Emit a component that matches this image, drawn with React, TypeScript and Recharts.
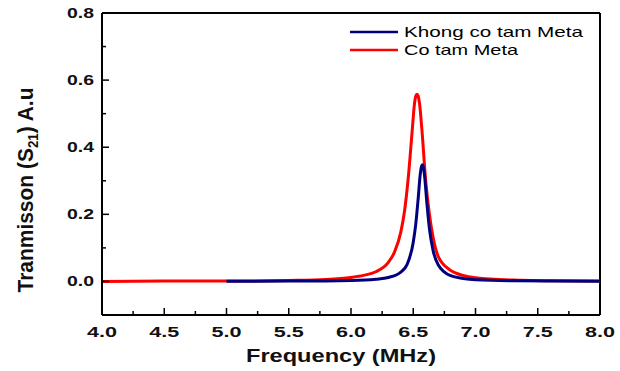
import { LineChart, Line, XAxis, YAxis, ReferenceLine, Legend } from 'recharts';

// frequency (MHz) and transmission readings for each trace
const redFreq = [4.0, 4.5, 5.0, 5.5, 5.8, 6.0, 6.1, 6.2, 6.3, 6.35, 6.4, 6.43, 6.46, 6.49, 6.51, 6.52, 6.53, 6.54, 6.55, 6.57, 6.6, 6.63, 6.66, 6.7, 6.8, 6.9, 7.0, 7.3, 7.6, 8.0];
const redS21 = [0.0, 0.001, 0.001, 0.003, 0.006, 0.012, 0.018, 0.029, 0.057, 0.088, 0.147, 0.21, 0.309, 0.442, 0.53, 0.552, 0.558, 0.552, 0.532, 0.45, 0.3, 0.2, 0.13, 0.075, 0.033, 0.018, 0.011, 0.004, 0.002, 0.001];

const blueFreq = [5.0, 5.5, 6.0, 6.2, 6.3, 6.4, 6.45, 6.5, 6.52, 6.54, 6.555, 6.566, 6.573, 6.58, 6.59, 6.61, 6.63, 6.66, 6.7, 6.8, 6.9, 7.0, 7.3, 8.0];
const blueS21 = [0.0005, 0.001, 0.003, 0.0068, 0.0118, 0.028, 0.05, 0.117, 0.17, 0.249, 0.315, 0.342, 0.348, 0.343, 0.318, 0.231, 0.157, 0.091, 0.05, 0.017, 0.009, 0.005, 0.002, 0.0005];

const xTicks = [4.0, 4.25, 4.5, 4.75, 5.0, 5.25, 5.5, 5.75, 6.0, 6.25, 6.5, 6.75, 7.0, 7.25, 7.5, 7.75, 8.0];
const yTicks = [-0.1, 0.0, 0.1, 0.2, 0.3, 0.4, 0.5, 0.6, 0.7, 0.8];

const redData = redFreq.map((f, i) => ({ f, v: redS21[i] }));
const blueData = blueFreq.map((f, i) => ({ f, v: blueS21[i] }));

const isMajor = (v: number, step: number) => Math.abs(v / step - Math.round(v / step)) < 1e-6;

const XTick = (props: any) => {
  const { x, y, payload } = props;
  const v = payload.value;
  const major = isMajor(v, 0.5);
  return (
    <g>
      <line x1={x} x2={x} y1={y} y2={y - (major ? 7 : 4)} stroke="#000" strokeWidth={1.5} />
      {major && (
        <text x={x} y={y + 22} textAnchor="middle" fontFamily="Liberation Sans, Arial" fontWeight="bold" fontSize={15} fill="#111" textLength={30} lengthAdjust="spacingAndGlyphs">
          {v.toFixed(1)}
        </text>
      )}
    </g>
  );
};

const YTick = (props: any) => {
  const { x, y, payload } = props;
  const v = payload.value;
  const major = isMajor(v, 0.2) && v >= 0;
  return (
    <g>
      <line x1={x} x2={x + (major ? 7 : 4)} y1={y} y2={y} stroke="#000" strokeWidth={1.5} />
      {major && (
        <text x={x - 8} y={y + 5} textAnchor="end" fontFamily="Liberation Sans, Arial" fontWeight="bold" fontSize={15} fill="#111" textLength={27} lengthAdjust="spacingAndGlyphs">
          {v.toFixed(1)}
        </text>
      )}
    </g>
  );
};

const renderLegend = () => (
  <svg width={260} height={40}>
    <line x1={5} x2={53} y1={10} y2={10} stroke="#00007f" strokeWidth={2.5} />
    <text x={59} y={15} fontFamily="Liberation Sans, Arial" fontSize={15} fill="#000" textLength={179} lengthAdjust="spacingAndGlyphs">Khong co tam Meta</text>
    <line x1={5} x2={53} y1={28} y2={28} stroke="#ff0000" strokeWidth={2.5} />
    <text x={59} y={33} fontFamily="Liberation Sans, Arial" fontSize={15} fill="#000" textLength={114} lengthAdjust="spacingAndGlyphs">Co tam Meta</text>
  </svg>
);

export default function App() {
  return (
    <div style={{ position: 'absolute', left: 0, top: 0, width: 620, height: 371, background: '#fff' }}>
      <LineChart width={620} height={371} margin={{ top: 13, right: 20, bottom: 26, left: 42 }}>
        <XAxis
          type="number"
          dataKey="f"
          domain={[4, 8]}
          ticks={xTicks}
          interval={0}
          allowDuplicatedCategory={false}
          height={30}
          tickSize={0}
          tickMargin={0}
          axisLine={{ stroke: '#000', strokeWidth: 2 }}
          tick={<XTick />}
          label={() => (
            <text x={341} y={362} textAnchor="middle" fontFamily="Liberation Sans, Arial" fontWeight="bold" fontSize={18} fill="#111" textLength={190} lengthAdjust="spacingAndGlyphs">
              Frequency (MHz)
            </text>
          )}
        />
        <YAxis
          type="number"
          domain={[-0.1, 0.8]}
          ticks={yTicks}
          interval={0}
          width={60}
          tickSize={0}
          tickMargin={0}
          axisLine={{ stroke: '#000', strokeWidth: 2 }}
          tick={<YTick />}
          label={() => (
            <text x={33} y={190} transform="rotate(-90, 33, 190)" textAnchor="middle" fontFamily="Liberation Sans, Arial" fontWeight="bold" fontSize={22} fill="#111" textLength={205} lengthAdjust="spacingAndGlyphs">
              Tranmisson (S<tspan fontSize={14} dy={5}>21</tspan><tspan dy={-5}>) A.u</tspan>
            </text>
          )}
        />
        <ReferenceLine x={8} stroke="#000" strokeWidth={2} />
        <ReferenceLine y={0.8} stroke="#000" strokeWidth={2} />
        <Line data={redData} dataKey="v" type="monotone" stroke="#ff0000" strokeWidth={3} dot={false} isAnimationActive={false} />
        <Line data={blueData} dataKey="v" type="monotone" stroke="#00007f" strokeWidth={3} dot={false} isAnimationActive={false} />
        <Legend layout="vertical" align="center" verticalAlign="middle" content={renderLegend} wrapperStyle={{ top: 22, left: 345, width: 260 }} />
      </LineChart>
    </div>
  );
}
